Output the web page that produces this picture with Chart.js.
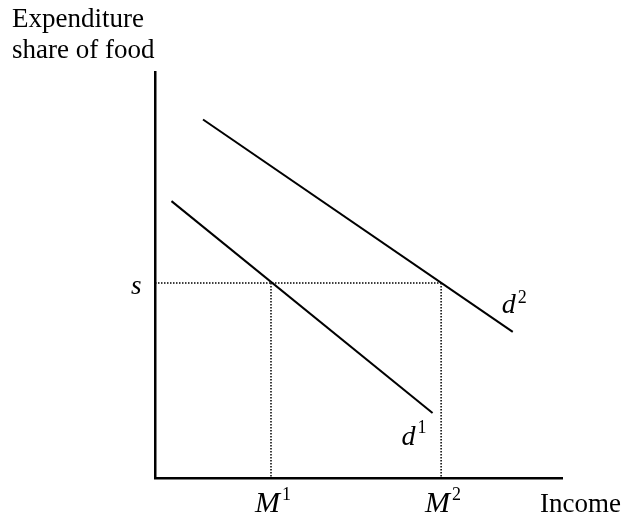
<!DOCTYPE html>
<html>
<head>
<meta charset="utf-8">
<script src="https://cdn.jsdelivr.net/npm/chart.js@4.4.1/dist/chart.umd.min.js"></script>
<style>
  html, body { margin: 0; padding: 0; background: #fff; }
  #wrap { width: 623px; height: 520px; }
</style>
</head>
<body>
<div id="wrap"><canvas id="chart" width="623" height="520"></canvas></div>
<script>
// income levels on the x axis (M1, M2) and the share level s
let incomeLevels = [28.5, 70.3];
let incomeLabels = ["M", "M"];
let incomeSups = ["1", "2"];
let shareLevel = 48;
let shareLabel = "s";

// the two Engel curves
let d1Income = [4.05, 68.2];
let d1Share = [68.2, 16.0];
let d2Income = [11.8, 87.9];
let d2Share = [88.3, 36.0];
let curveNames = ["d", "d"];
let curveSups = ["1", "2"];

let yTitle = ["Expenditure", "share of food"];
let xTitle = "Income";

function pts(xs, ys){
  let out = [];
  for(let i = 0; i < xs.length; i++){
    out.push({x: xs[i], y: ys[i]});
  }
  return out;
}

// dotted guide lines: s across to M2, and down from both intersections
let guideH = [{x: 0, y: shareLevel}, {x: incomeLevels[1], y: shareLevel}];
let guideV1 = [{x: incomeLevels[0], y: shareLevel}, {x: incomeLevels[0], y: 0}];
let guideV2 = [{x: incomeLevels[1], y: shareLevel}, {x: incomeLevels[1], y: 0}];

const serif = "'Liberation Serif', 'Times New Roman', serif";

function supText(ctx, base, sup, x, y, bigSize, supSize, supRise){
  ctx.font = "italic " + bigSize + "px " + serif;
  ctx.fillText(base, x, y);
  let w = ctx.measureText(base).width;
  ctx.font = supSize + "px " + serif;
  ctx.fillText(sup, x + w + 2, y - supRise);
}

const labelPlugin = {
  id: "labels",
  afterDraw(chart){
    let ctx = chart.ctx;
    let xs = chart.scales.x, ys = chart.scales.y;
    ctx.save();
    ctx.fillStyle = "#000";
    ctx.textAlign = "left";
    ctx.textBaseline = "alphabetic";
    // axis titles
    ctx.font = "27px " + serif;
    ctx.fillText(yTitle[0], 12, 27);
    ctx.fillText(yTitle[1], 12, 58);
    ctx.fillText(xTitle, 540, 512);
    // s
    ctx.font = "italic 27px " + serif;
    ctx.fillText(shareLabel, 131, ys.getPixelForValue(shareLevel) + 11);
    // M1, M2
    for(let i = 0; i < incomeLevels.length; i++){
      let px = xs.getPixelForValue(incomeLevels[i]);
      supText(ctx, incomeLabels[i], incomeSups[i], px - 16, 512, 30, 18, 12);
    }
    // d1, d2 near the curve ends
    let e1x = xs.getPixelForValue(d1Income[1]), e1y = ys.getPixelForValue(d1Share[1]);
    supText(ctx, curveNames[0], curveSups[0], e1x - 31, e1y + 32, 28, 18, 12);
    let e2x = xs.getPixelForValue(d2Income[1]), e2y = ys.getPixelForValue(d2Share[1]);
    supText(ctx, curveNames[1], curveSups[1], e2x - 11, e2y - 19, 28, 18, 10);
    ctx.restore();
  }
};

let lineStyle = {showLine: true, borderColor: "#000", borderWidth: 2, pointRadius: 0, fill: false};
let dotStyle = {showLine: true, borderColor: "#000", borderWidth: 1.5, borderDash: [1.5, 1.5], pointRadius: 0, fill: false};

let ctx = document.getElementById("chart").getContext("2d");
let chart = new Chart(ctx, {
  type: "scatter",
  data: {
    datasets: [
      Object.assign({label: "d1", data: pts(d1Income, d1Share)}, lineStyle),
      Object.assign({label: "d2", data: pts(d2Income, d2Share)}, lineStyle),
      Object.assign({label: "s", data: guideH}, dotStyle),
      Object.assign({label: "M1", data: guideV1}, dotStyle),
      Object.assign({label: "M2", data: guideV2}, dotStyle)
    ]
  },
  options: {
    responsive: false,
    animation: false,
    layout: { padding: {left: 147, right: 61, top: 72, bottom: 34} },
    plugins: { legend: {display: false}, tooltip: {enabled: false} },
    scales: {
      x: {
        type: "linear", min: 0, max: 100,
        grid: {display: false},
        ticks: {display: false},
        border: {display: true, color: "#000", width: 2.5}
      },
      y: {
        type: "linear", min: 0, max: 100,
        grid: {display: false},
        ticks: {display: false},
        border: {display: true, color: "#000", width: 2.5}
      }
    }
  },
  plugins: [labelPlugin]
});
</script>
</body>
</html>
